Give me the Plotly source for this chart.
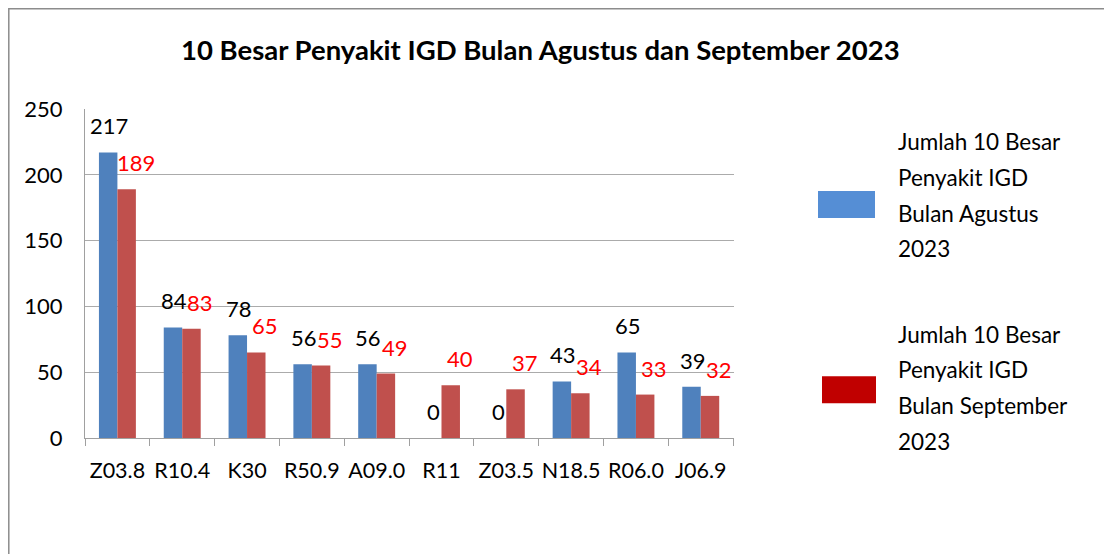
import plotly.graph_objects as go

# ---- data ----
categories = ["Z03.8", "R10.4", "K30", "R50.9", "A09.0", "R11", "Z03.5", "N18.5", "R06.0", "J06.9"]
agustus = [217, 84, 78, 56, 56, 0, 0, 43, 65, 39]
september = [189, 83, 65, 55, 49, 40, 37, 34, 33, 32]
series_names = ["Jumlah 10 Besar Penyakit IGD Bulan Agustus 2023",
                "Jumlah 10 Besar Penyakit IGD Bulan September 2023"]
legend_lines = [["Jumlah 10 Besar", "Penyakit IGD", "Bulan Agustus", "2023"],
                ["Jumlah 10 Besar", "Penyakit IGD", "Bulan September", "2023"]]
title_text = "10 Besar Penyakit IGD Bulan Agustus dan September 2023"
y_ticks = [0, 50, 100, 150, 200, 250]

# ---- layout constants (pixels, in window coordinates) ----
OFF = 8  # page body margin
W, H = 1112 - OFF, 554 - OFF
L, R, T, B = 85, 734, 109, 437.7
FONT = "Lato, Calibri, Carlito, sans-serif"
BAR_BLUE, BAR_RED = "#4F81BD", "#C0504D"
LEG_BLUE, LEG_RED = "#558ED5", "#C00000"
BARGAP = 0.43


def px_x(p):
    return (p - L) / (R - L)


def px_y(p):
    return (B - p) / (B - T)


fig = go.Figure()
fig.add_trace(go.Bar(x=categories, y=agustus, name=series_names[0],
                     marker=dict(color=BAR_BLUE, line=dict(width=0)), showlegend=False))
fig.add_trace(go.Bar(x=categories, y=september, name=series_names[1],
                     marker=dict(color=BAR_RED, line=dict(width=0)), showlegend=False))

cat_w = (R - L) / len(categories)
bar_off = cat_w * (1 - BARGAP) / 4

annotations = []
for c, v in zip(categories, agustus):
    annotations.append(dict(x=c, y=v, xref="x", yref="y", text=str(v), showarrow=False,
                            xshift=-bar_off + 1, yshift=26.5, yanchor="middle",
                            font=dict(family=FONT, size=22, color="#000000")))
for c, v in zip(categories, september):
    annotations.append(dict(x=c, y=v, xref="x", yref="y", text=str(v), showarrow=False,
                            xshift=bar_off + 9, yshift=26.5, yanchor="middle",
                            font=dict(family=FONT, size=22, color="#FF0000")))

# title
annotations.append(dict(x=px_x(540), y=px_y(50), xref="paper", yref="paper",
                        text="<b>" + title_text + "</b>",
                        showarrow=False, xanchor="center", yanchor="middle",
                        font=dict(family=FONT, size=27.5, color="#000000")))

shapes = []
# manual legend
leg_boxes = [(818, 191, 875, 218, LEG_BLUE), (822, 376, 876, 403, LEG_RED)]
leg_text_y = [[141.6, 177, 213, 248.5], [334, 369.5, 405.5, 441]]
for (x0, y0, x1, y1, col), lines, ys in zip(leg_boxes, legend_lines, leg_text_y):
    shapes.append(dict(type="rect", xref="paper", yref="paper",
                       x0=px_x(x0), x1=px_x(x1), y0=px_y(y1), y1=px_y(y0),
                       fillcolor=col, line=dict(width=0)))
    for ln, yy in zip(lines, ys):
        annotations.append(dict(x=px_x(896), y=px_y(yy), xref="paper", yref="paper", text=ln,
                                showarrow=False, xanchor="left", yanchor="middle",
                                font=dict(family=FONT, size=22.5, color="#000000")))

# outer border (left and top edges visible)
shapes.append(dict(type="rect", xref="paper", yref="paper",
                   x0=px_x(OFF + 0.8), x1=px_x(1130), y0=px_y(570), y1=px_y(OFF + 0.8),
                   line=dict(color="#8C8C8C", width=1.5), fillcolor="rgba(0,0,0,0)", layer="above"))

fig.update_layout(
    width=W, height=H,
    margin=dict(l=L - OFF, r=W + OFF - R, t=T - OFF, b=H + OFF - B, pad=0),
    paper_bgcolor="white", plot_bgcolor="white",
    barmode="group", bargap=BARGAP, bargroupgap=0,
    font=dict(family=FONT, size=22, color="#000000"),
    annotations=annotations, shapes=shapes,
    showlegend=False,
)
fig.update_xaxes(type="category", showline=True, linecolor="#A0A0A0", linewidth=1,
                 ticks="outside", tickson="boundaries", ticklen=7, tickcolor="#A0A0A0",
                 showgrid=False, tickangle=0, tickfont=dict(family=FONT, size=21.5, color="#000000"),
                 ticklabelstandoff=13)
fig.update_yaxes(range=[0, 250], tickvals=y_ticks, showline=True, linecolor="#A0A0A0", linewidth=1,
                 showgrid=True, gridcolor="#ABABAB", gridwidth=1, ticks="", zeroline=False,
                 tickfont=dict(family=FONT, size=22, color="#000000"), ticklabelstandoff=17)

fig.write_html("out.html")
